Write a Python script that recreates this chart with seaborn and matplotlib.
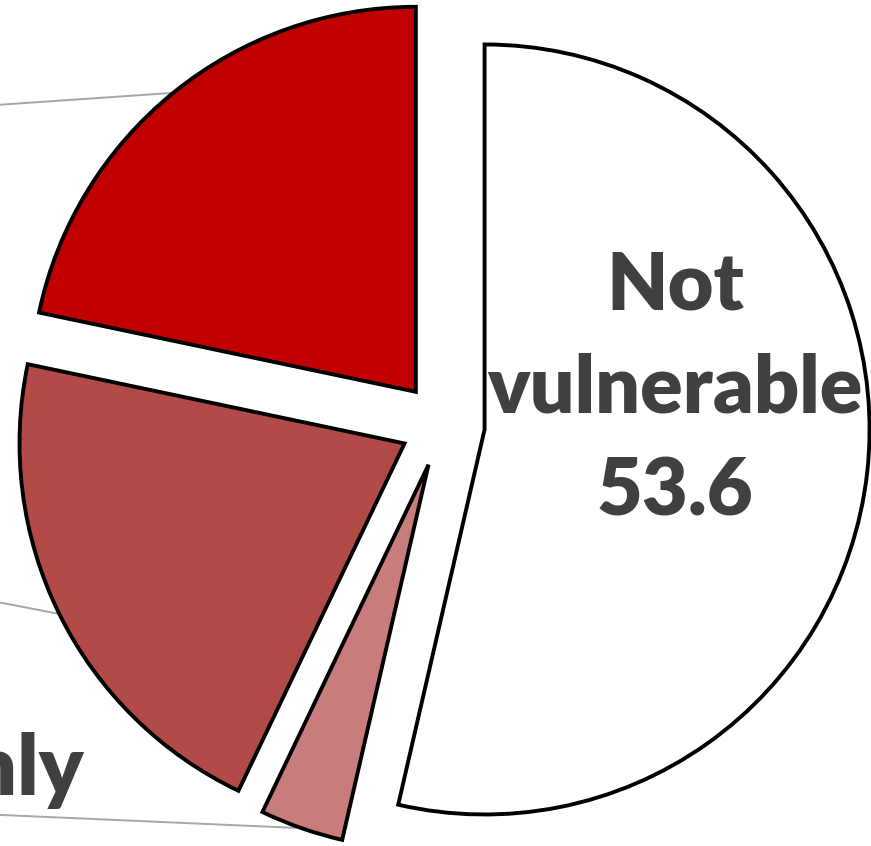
import matplotlib
matplotlib.use("Agg")
import matplotlib.pyplot as plt
import numpy as np
import seaborn as sns

# Share of respondents by vulnerability group (%)
categories = ["Not vulnerable", "Financially only", "Moderately vulnerable", "Highly vulnerable"]
shares = [53.6, 3.5, 21.2, 21.7]
slice_colors = ["#FFFFFF", "#C97C7C", "#B24B48", "#C00000"]
text_color = "#404040"

sns.set_theme(style="white")
plt.rcParams["font.family"] = ["Lato", "DejaVu Sans"]

W, H, DPI = 871, 846, 100
fig = plt.figure(figsize=(W / DPI, H / DPI), dpi=DPI)
ax = fig.add_axes([0, 0, 1, 1])

wedges, _ = ax.pie(
    shares,
    colors=slice_colors,
    startangle=90,
    counterclock=False,
    explode=[0.11] * len(shares),
    wedgeprops=dict(edgecolor="black", linewidth=2.8, joinstyle="miter"),
)

# Pie sits right of centre; group labels live off to the left
px = 385.0          # pixels per unit radius
cx, cy = 442.5, 424.7
ax.set_xlim(-cx / px, (W - cx) / px)
ax.set_ylim(-(H - cy) / px, cy / px)
ax.set_aspect("auto")
ax.axis("off")

# Value label inside the largest slice
ax.text(0.604, 0.092, categories[0].replace(" ", "\n") + f"\n{shares[0]}",
        ha="center", va="center", fontsize=57, fontweight="heavy",
        color=text_color, linespacing=1.5)

# Leader lines from the arc midpoint of each outer slice towards its label
label_x = -1.253
label_y = {1: -1.009, 2: -0.442, 3: 0.824}
for i, w in enumerate(wedges):
    if i == 0:
        continue
    mid = np.deg2rad((w.theta1 + w.theta2) / 2)
    x0 = w.center[0] + w.r * np.cos(mid)
    y0 = w.center[1] + w.r * np.sin(mid)
    ax.plot([x0, label_x], [y0, label_y[i]], color="#A6A6A6", lw=1.4,
            solid_capstyle="butt", zorder=0)

ax.text(-0.933, -0.962, categories[1], ha="right", va="baseline",
        fontsize=60, fontweight="heavy", color=text_color)

fig.savefig("out.png", dpi=DPI, facecolor="white")
